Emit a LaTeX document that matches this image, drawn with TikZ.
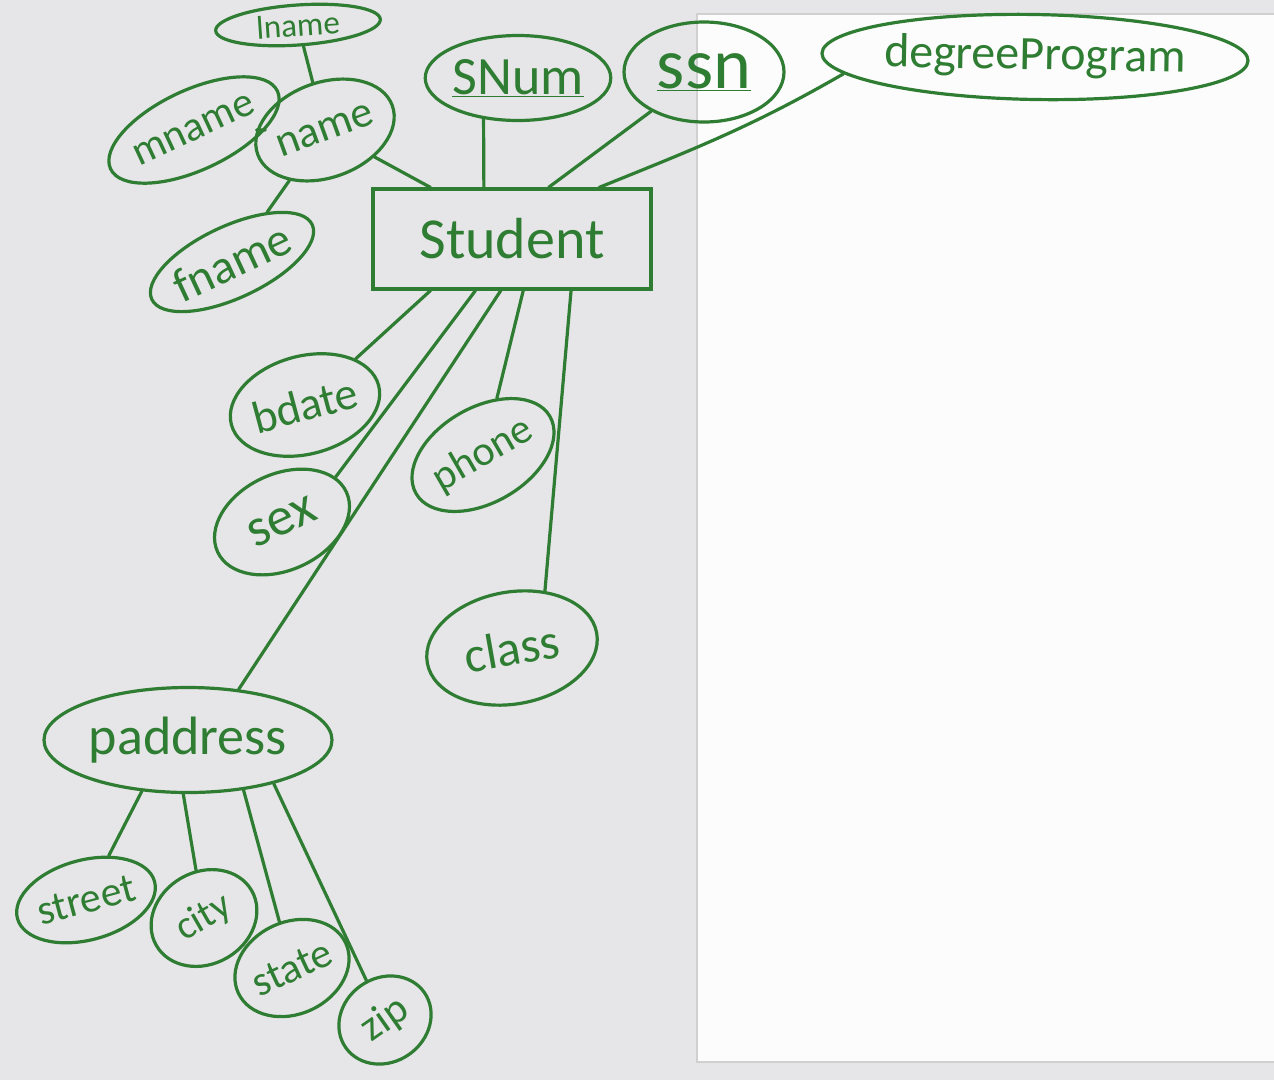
\documentclass[tikz,border=0pt]{standalone}
\usepackage{fontspec}
\setmainfont{Carlito}
\usetikzlibrary{shapes,positioning,calc}
\definecolor{inkgreen}{RGB}{46,125,50}
\definecolor{slidegray}{RGB}{230,230,232}
\definecolor{pageedge}{RGB}{208,208,208}
\newcommand{\handsize}[1]{\fontsize{#1}{#1}\selectfont}
\tikzset{
    ink/.style={draw=inkgreen, line width=3.2pt, line cap=round},
    attribute/.style={ink, ellipse, inner sep=0pt, text=inkgreen},
    entity/.style={ink, rectangle, inner sep=0pt, text=inkgreen},
    link/.style={ink},
}

\begin{document}
\begin{tikzpicture}[x=1pt, y=-1pt]
	\useasboundingbox (0,0) rectangle (1274,1080);
	\fill[slidegray] (0,0) rectangle (1274,1080);
	\fill[white!99!black] (697,14) rectangle (1274,1062);
	\draw[pageedge, line width=1.5pt] (1274,14) -- (697,14) -- (697,1062) -- (1274,1062);

	% entity
	\node[entity, minimum width=278pt, minimum height=100pt, font=\handsize{58}] (student) at (512,239) {Student};
	\coordinate (st-name) at ($(student.north west)!0.21!(student.north east)$);
	\coordinate (st-snum) at ($(student.north west)!0.40!(student.north east)$);
	\coordinate (st-ssn) at ($(student.north west)!0.63!(student.north east)$);
	\coordinate (st-degree) at ($(student.north west)!0.81!(student.north east)$);
	\coordinate (sb-bdate) at ($(student.south west)!0.21!(student.south east)$);
	\coordinate (sb-sex) at ($(student.south west)!0.37!(student.south east)$);
	\coordinate (sb-paddress) at ($(student.south west)!0.46!(student.south east)$);
	\coordinate (sb-phone) at ($(student.south west)!0.54!(student.south east)$);
	\coordinate (sb-class) at ($(student.south west)!0.71!(student.south east)$);

	% attributes above
	\node[attribute, minimum width=165pt, minimum height=40pt, rotate=4, font=\handsize{33}] (lname) at (298,25) {lname};
	\node[attribute, minimum width=152pt, minimum height=80pt, rotate=25, font=\handsize{42}] (mname) at (194,130) {mname};
	\node[attribute, minimum width=135pt, minimum height=95pt, rotate=20, font=\handsize{44}] (name) at (325,130) {name};
	\node[attribute, minimum width=120pt, minimum height=72pt, rotate=25, font=\handsize{48}] (fname) at (232,262) {fname};
	\node[attribute, minimum width=165pt, minimum height=85pt, font=\handsize{54}] (snum) at (518,78) {\underline{SNum}};
	\node[attribute, minimum width=160pt, minimum height=100pt, font=\handsize{72}] (ssn) at (704,72) {\underline{ssn}};
	\node[attribute, minimum width=365pt, minimum height=85pt, rotate=-1, font=\handsize{48}] (degree) at (1035,57) {degreeProgram};

	% attributes below
	\node[attribute, minimum width=148pt, minimum height=98pt, rotate=15, font=\handsize{46}] (bdate) at (305,405) {bdate};
	\node[attribute, minimum width=142pt, minimum height=96pt, rotate=25, font=\handsize{54}] (sex) at (282,522) {sex};
	\node[attribute, minimum width=140pt, minimum height=95pt, rotate=30, font=\handsize{42}] (phone) at (483,455) {phone};
	\node[attribute, minimum width=172pt, minimum height=112pt, rotate=10, font=\handsize{50}] (class) at (512,648) {class};
	\node[attribute, minimum width=288pt, minimum height=105pt, font=\handsize{54}] (paddress) at (188,740) {paddress};
	\node[attribute, minimum width=142pt, minimum height=80pt, rotate=15, font=\handsize{42}] (street) at (86,900) {street};
	\node[attribute, minimum width=110pt, minimum height=92pt, rotate=30, font=\handsize{40}] (city) at (204,918) {city};
	\node[attribute, minimum width=112pt, minimum height=92pt, rotate=25, font=\handsize{42}] (state) at (292,968) {state};
	\node[attribute, minimum width=96pt, minimum height=84pt, rotate=35, font=\handsize{42}] (zip) at (385,1020) {zip};

	% links
	\draw[link] (lname) -- (name);
	\draw[link] (mname) -- (name);
	\draw[link] (name) -- (st-name);
	\draw[link] (name) -- (fname);
	\draw[link] (snum.-130) -- (st-snum);
	\draw[link] (ssn) -- (st-ssn);
	\draw[link] (st-degree) to[out=22, in=210] (degree.186);
	\draw[link] (sb-bdate) -- (bdate);
	\draw[link] (sb-sex) -- (sex.15);
	\draw[link] (sb-paddress) -- (paddress.45);
	\draw[link] (sb-phone) -- (phone);
	\draw[link] (sb-class) -- (class.50);
	\draw[link] (paddress.-132) -- (street);
	\draw[link] (paddress.-95) -- (city);
	\draw[link] (paddress.-42) -- (state);
	\draw[link] (paddress.-27) -- (zip);
\end{tikzpicture}
\end{document}
